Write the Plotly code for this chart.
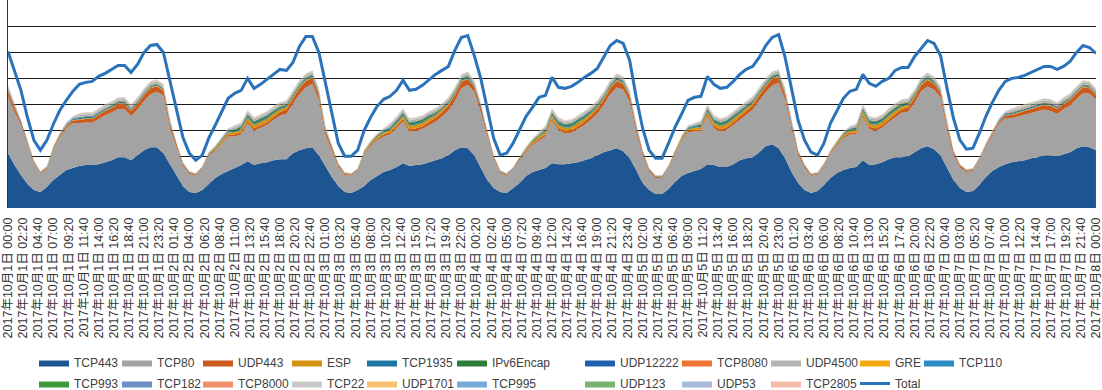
import pandas as pd
import plotly.graph_objects as go

# ---------------- data (arbitrary units; one value per hour) ----------------
hours = pd.date_range("2017-10-01 00:00", "2017-10-08 00:00", freq="h")

TCP443 = [
    55, 43, 33, 24, 18, 16, 21, 28, 33, 38, 40, 42, 43, 43, 44, 46, 48, 51, 51, 48, 53, 58, 61, 61,
    55, 44, 33, 22, 16, 15, 18, 24, 30, 34, 37, 40, 43, 47, 43, 45, 46, 48, 49, 49, 55, 58, 60, 61,
    53, 42, 31, 22, 16, 15, 18, 22, 28, 32, 36, 38, 41, 45, 42, 43, 44, 46, 48, 50, 53, 58, 61, 60,
    53, 41, 28, 20, 16, 15, 20, 25, 32, 36, 38, 40, 45, 44, 44, 45, 46, 48, 50, 53, 56, 58, 60, 57,
    50, 38, 25, 18, 14, 14, 19, 26, 32, 35, 37, 39, 44, 43, 41, 41, 44, 48, 50, 51, 56, 62, 64, 60,
    50, 36, 25, 18, 15, 17, 23, 30, 35, 38, 40, 41, 48, 43, 44, 46, 49, 51, 51, 52, 56, 60, 62, 59,
    53, 40, 28, 20, 16, 17, 23, 31, 37, 41, 44, 46, 47, 48, 50, 51, 53, 53, 52, 54, 56, 60, 62, 61,
    58]

TCP80 = [
    56.7, 53.2, 50.4, 40.4, 27.2, 18.4, 18.4, 31.2, 37.5, 41.9, 45.2, 43.2, 42.7, 42.4, 45.2, 47, 47.7, 48.4, 48.2, 44, 45.7, 49.2, 53.2, 55.7,
    57.5, 36.1, 28.4, 20.4, 18.2, 17.4, 21.4, 29, 27, 29.9, 34.8, 31.6, 30.8, 38.1, 34.5, 35.4, 37.2, 40.3, 43.6, 45.6, 49.5, 56, 60.8, 63.5,
    55.5, 31.1, 27.4, 19.4, 17.2, 17.4, 19.4, 33, 34, 35.9, 35.8, 35.6, 38.8, 42.1, 34.5, 34.4, 35.2, 37.3, 38.6, 41.6, 44.5, 49, 58.8, 63.5,
    63.5, 55.1, 45.4, 29.4, 19.2, 17.4, 18.4, 23, 24, 26.9, 29.8, 31.6, 42.8, 34.1, 30.5, 30.4, 33.2, 35.3, 38.6, 41.6, 47.5, 56, 60.8, 61.5,
    56.5, 38.1, 28.4, 18.4, 16.2, 16.4, 21.4, 29, 35, 40.9, 39.8, 37.6, 47.8, 37.1, 35.5, 37.4, 39.2, 40.3, 43.6, 47.6, 51.5, 54, 58.8, 65.5,
    58.5, 42.1, 28.4, 22.4, 17.2, 16.4, 19.4, 25, 27, 31.9, 33.8, 32.6, 43.8, 36.1, 33.5, 34.4, 37.2, 40.3, 44.6, 44.6, 49.5, 57, 59.8, 59.5,
    57.7, 38.2, 25.4, 20.4, 20.2, 20.4, 25.4, 31.2, 35.5, 42.9, 46.2, 44.2, 44.7, 45.4, 45.2, 46, 45.7, 44.4, 42.2, 45, 46.7, 49.2, 53.2, 53.7,
    50.7]

UDP443 = [
    5, 4, 3, 2, 1.2, 1, 1, 1.2, 1.6, 2, 2.5, 3, 3.5, 3.8, 4, 4.2, 4.5, 4.8, 5, 5.2, 5.5, 6, 6, 5.5,
    5, 4, 3, 2, 1.2, 1, 1, 1.2, 1.5, 1.6, 1.8, 2, 2.2, 2.3, 2.4, 2.5, 2.8, 3.2, 3.8, 4.5, 5.2, 6, 6.5, 6,
    5, 4, 3, 2, 1.2, 1, 1, 1.2, 1.5, 1.6, 1.8, 2, 2.2, 2.3, 2.4, 2.5, 2.8, 3.2, 3.8, 4.5, 5.2, 6, 6.5, 6,
    5, 4, 3, 2, 1.2, 1, 1, 1.2, 1.5, 1.6, 1.8, 2, 2.2, 2.3, 2.4, 2.5, 2.8, 3.2, 3.8, 4.5, 5.2, 6, 6.5, 6,
    5, 4, 3, 2, 1.2, 1, 1, 1.2, 1.5, 1.6, 1.8, 2, 2.2, 2.3, 2.4, 2.5, 2.8, 3.2, 3.8, 4.5, 5.2, 6, 6.5, 6,
    5, 4, 3, 2, 1.2, 1, 1, 1.2, 1.5, 1.6, 1.8, 2, 2.2, 2.3, 2.4, 2.5, 2.8, 3.2, 3.8, 4.5, 5.2, 6, 6.5, 6,
    5, 4, 3, 2, 1.2, 1, 1, 1.2, 1.6, 2, 2.5, 3, 3.5, 3.8, 4, 4.2, 4.5, 4.8, 5, 5.2, 5.5, 6, 6, 5.5,
    5]

ESP = [
    .6, .4, .2, .2, .2, .2, .2, .2, .5, .5, .5, .8, .8, .8, .8, .8, .8, .8, .8, .8, .8, .8, .8, .8,
    .8, .5, .2, .2, .2, .2, .2, .4, 1, 1.5, 2, 2.5, 2.8, 3.2, 3.6, 3.6, 3.5, 3.2, 2.6, 2.2, 1.8, 1.5, 1.2, 1,
    .8, .5, .2, .2, .2, .2, .2, .4, 1, 1.5, 2, 2.5, 2.8, 3.2, 3.6, 3.6, 3.5, 3.2, 2.6, 2.2, 1.8, 1.5, 1.2, 1,
    .8, .5, .2, .2, .2, .2, .2, .4, 1, 1.5, 2, 2.5, 2.8, 3.2, 3.6, 3.6, 3.5, 3.2, 2.6, 2.2, 1.8, 1.5, 1.2, 1,
    .8, .5, .2, .2, .2, .2, .2, .4, 1, 1.5, 2, 2.5, 2.8, 3.2, 3.6, 3.6, 3.5, 3.2, 2.6, 2.2, 1.8, 1.5, 1.2, 1,
    .8, .5, .2, .2, .2, .2, .2, .4, 1, 1.5, 2, 2.5, 2.8, 3.2, 3.6, 3.6, 3.5, 3.2, 2.6, 2.2, 1.8, 1.5, 1.2, 1,
    .6, .4, .2, .2, .2, .2, .2, .2, .5, .5, .5, .8, .8, .8, .8, .8, .8, .8, .8, .8, .8, .8, .8, .8,
    .6]

TCP1935 = [
    1.1, .8, .3, .3, .3, .3, .3, .3, .6, .8, 1, 1.2, 1.2, 1.2, 1.2, 1.2, 1.2, 1.2, 1.2, 1.2, 1.2, 1.2, 1.2, 1.2,
    1.1, .8, .3, .3, .3, .3, .3, .3, .6, .8, 1, 1.3, 1.3, 1.3, 1.3, 1.3, 1.3, 1.3, 1.3, 1.3, 1.3, 1.3, 1.3, 1.3,
    1.1, .8, .3, .3, .3, .3, .3, .3, .6, .8, 1, 1.3, 1.3, 1.3, 1.3, 1.3, 1.3, 1.3, 1.3, 1.3, 1.3, 1.3, 1.3, 1.3,
    1.1, .8, .3, .3, .3, .3, .3, .3, .6, .8, 1, 1.3, 1.3, 1.3, 1.3, 1.3, 1.3, 1.3, 1.3, 1.3, 1.3, 1.3, 1.3, 1.3,
    1.1, .8, .3, .3, .3, .3, .3, .3, .6, .8, 1, 1.3, 1.3, 1.3, 1.3, 1.3, 1.3, 1.3, 1.3, 1.3, 1.3, 1.3, 1.3, 1.3,
    1.1, .8, .3, .3, .3, .3, .3, .3, .6, .8, 1, 1.3, 1.3, 1.3, 1.3, 1.3, 1.3, 1.3, 1.3, 1.3, 1.3, 1.3, 1.3, 1.3,
    1.1, .8, .3, .3, .3, .3, .3, .3, .6, .8, 1, 1.2, 1.2, 1.2, 1.2, 1.2, 1.2, 1.2, 1.2, 1.2, 1.2, 1.2, 1.2, 1.2,
    1.1]

IPv6Encap = [
    .2, .2, .2, .2, .2, .2, .2, .2, .4, .4, .4, .4, .4, .4, .4, .4, .4, .4, .4, .4, .4, .4, .4, .4,
    .2, .2, .2, .2, .2, .2, .2, .2, .5, .8, 1, 1.2, 1.5, 1.7, 1.8, 1.8, 1.8, 1.6, 1.3, 1, .8, .8, .8, .8,
    .2, .2, .2, .2, .2, .2, .2, .2, .5, .8, 1, 1.2, 1.5, 1.7, 1.8, 1.8, 1.8, 1.6, 1.3, 1, .8, .8, .8, .8,
    .2, .2, .2, .2, .2, .2, .2, .2, .5, .8, 1, 1.2, 1.5, 1.7, 1.8, 1.8, 1.8, 1.6, 1.3, 1, .8, .8, .8, .8,
    .2, .2, .2, .2, .2, .2, .2, .2, .5, .8, 1, 1.2, 1.5, 1.7, 1.8, 1.8, 1.8, 1.6, 1.3, 1, .8, .8, .8, .8,
    .2, .2, .2, .2, .2, .2, .2, .2, .5, .8, 1, 1.2, 1.5, 1.7, 1.8, 1.8, 1.8, 1.6, 1.3, 1, .8, .8, .8, .8,
    .2, .2, .2, .2, .2, .2, .2, .2, .4, .4, .4, .4, .4, .4, .4, .4, .4, .4, .4, .4, .4, .4, .4, .4,
    .2]

UDP12222 = [
    .3, .3, .05, .05, .05, .05, .05, .05, .15, .15, .15, .3, .3, .3, .3, .3, .3, .3, .3, .3, .3, .3, .3, .3,
    .3, .3, .05, .05, .05, .05, .05, .05, .15, .15, .15, .3, .3, .3, .3, .3, .3, .3, .3, .3, .3, .3, .3, .3,
    .3, .3, .05, .05, .05, .05, .05, .05, .15, .15, .15, .3, .3, .3, .3, .3, .3, .3, .3, .3, .3, .3, .3, .3,
    .3, .3, .05, .05, .05, .05, .05, .05, .15, .15, .15, .3, .3, .3, .3, .3, .3, .3, .3, .3, .3, .3, .3, .3,
    .3, .3, .05, .05, .05, .05, .05, .05, .15, .15, .15, .3, .3, .3, .3, .3, .3, .3, .3, .3, .3, .3, .3, .3,
    .3, .3, .05, .05, .05, .05, .05, .05, .15, .15, .15, .3, .3, .3, .3, .3, .3, .3, .3, .3, .3, .3, .3, .3,
    .3, .3, .05, .05, .05, .05, .05, .05, .15, .15, .15, .3, .3, .3, .3, .3, .3, .3, .3, .3, .3, .3, .3, .3,
    .3]

TCP8080 = [
    .3, .3, .05, .05, .05, .05, .05, .05, .15, .15, .15, .3, .3, .3, .3, .3, .3, .3, .3, .3, .3, .3, .3, .3,
    .3, .3, .05, .05, .05, .05, .05, .05, .15, .15, .15, .3, .3, .3, .3, .3, .3, .3, .3, .3, .3, .3, .3, .3,
    .3, .3, .05, .05, .05, .05, .05, .05, .15, .15, .15, .3, .3, .3, .3, .3, .3, .3, .3, .3, .3, .3, .3, .3,
    .3, .3, .05, .05, .05, .05, .05, .05, .15, .15, .15, .3, .3, .3, .3, .3, .3, .3, .3, .3, .3, .3, .3, .3,
    .3, .3, .05, .05, .05, .05, .05, .05, .15, .15, .15, .3, .3, .3, .3, .3, .3, .3, .3, .3, .3, .3, .3, .3,
    .3, .3, .05, .05, .05, .05, .05, .05, .15, .15, .15, .3, .3, .3, .3, .3, .3, .3, .3, .3, .3, .3, .3, .3,
    .3, .3, .05, .05, .05, .05, .05, .05, .15, .15, .15, .3, .3, .3, .3, .3, .3, .3, .3, .3, .3, .3, .3, .3,
    .3]

UDP4500 = [
    .6, .6, .1, .1, .1, .1, .1, .1, .3, .3, .3, .6, .6, .6, .6, .6, .6, .6, .6, .6, .6, .6, .6, .6,
    .6, .6, .1, .1, .1, .1, .1, .1, .3, .3, .3, .6, .6, .6, .6, .6, .6, .6, .6, .6, .6, .6, .6, .6,
    .6, .6, .1, .1, .1, .1, .1, .1, .3, .3, .3, .6, .6, .6, .6, .6, .6, .6, .6, .6, .6, .6, .6, .6,
    .6, .6, .1, .1, .1, .1, .1, .1, .3, .3, .3, .6, .6, .6, .6, .6, .6, .6, .6, .6, .6, .6, .6, .6,
    .6, .6, .1, .1, .1, .1, .1, .1, .3, .3, .3, .6, .6, .6, .6, .6, .6, .6, .6, .6, .6, .6, .6, .6,
    .6, .6, .1, .1, .1, .1, .1, .1, .3, .3, .3, .6, .6, .6, .6, .6, .6, .6, .6, .6, .6, .6, .6, .6,
    .6, .6, .1, .1, .1, .1, .1, .1, .3, .3, .3, .6, .6, .6, .6, .6, .6, .6, .6, .6, .6, .6, .6, .6,
    .6]

GRE = [
    .3, .3, .05, .05, .05, .05, .05, .05, .15, .15, .15, .3, .3, .3, .3, .3, .3, .3, .3, .3, .3, .3, .3, .3,
    .3, .3, .05, .05, .05, .05, .05, .05, .15, .15, .15, .3, .3, .3, .3, .3, .3, .3, .3, .3, .3, .3, .3, .3,
    .3, .3, .05, .05, .05, .05, .05, .05, .15, .15, .15, .3, .3, .3, .3, .3, .3, .3, .3, .3, .3, .3, .3, .3,
    .3, .3, .05, .05, .05, .05, .05, .05, .15, .15, .15, .3, .3, .3, .3, .3, .3, .3, .3, .3, .3, .3, .3, .3,
    .3, .3, .05, .05, .05, .05, .05, .05, .15, .15, .15, .3, .3, .3, .3, .3, .3, .3, .3, .3, .3, .3, .3, .3,
    .3, .3, .05, .05, .05, .05, .05, .05, .15, .15, .15, .3, .3, .3, .3, .3, .3, .3, .3, .3, .3, .3, .3, .3,
    .3, .3, .05, .05, .05, .05, .05, .05, .15, .15, .15, .3, .3, .3, .3, .3, .3, .3, .3, .3, .3, .3, .3, .3,
    .3]

TCP110 = [
    .3, .3, .05, .05, .05, .05, .05, .05, .15, .15, .15, .3, .3, .3, .3, .3, .3, .3, .3, .3, .3, .3, .3, .3,
    .3, .3, .05, .05, .05, .05, .05, .05, .15, .15, .15, .3, .3, .3, .3, .3, .3, .3, .3, .3, .3, .3, .3, .3,
    .3, .3, .05, .05, .05, .05, .05, .05, .15, .15, .15, .3, .3, .3, .3, .3, .3, .3, .3, .3, .3, .3, .3, .3,
    .3, .3, .05, .05, .05, .05, .05, .05, .15, .15, .15, .3, .3, .3, .3, .3, .3, .3, .3, .3, .3, .3, .3, .3,
    .3, .3, .05, .05, .05, .05, .05, .05, .15, .15, .15, .3, .3, .3, .3, .3, .3, .3, .3, .3, .3, .3, .3, .3,
    .3, .3, .05, .05, .05, .05, .05, .05, .15, .15, .15, .3, .3, .3, .3, .3, .3, .3, .3, .3, .3, .3, .3, .3,
    .3, .3, .05, .05, .05, .05, .05, .05, .15, .15, .15, .3, .3, .3, .3, .3, .3, .3, .3, .3, .3, .3, .3, .3,
    .3]

TCP993 = [
    .2, .2, .05, .05, .05, .05, .05, .05, .1, .1, .1, .2, .2, .2, .2, .2, .2, .2, .2, .2, .2, .2, .2, .2,
    .2, .2, .05, .05, .05, .05, .05, .05, .1, .1, .1, .2, .2, .2, .2, .2, .2, .2, .2, .2, .2, .2, .2, .2,
    .2, .2, .05, .05, .05, .05, .05, .05, .1, .1, .1, .2, .2, .2, .2, .2, .2, .2, .2, .2, .2, .2, .2, .2,
    .2, .2, .05, .05, .05, .05, .05, .05, .1, .1, .1, .2, .2, .2, .2, .2, .2, .2, .2, .2, .2, .2, .2, .2,
    .2, .2, .05, .05, .05, .05, .05, .05, .1, .1, .1, .2, .2, .2, .2, .2, .2, .2, .2, .2, .2, .2, .2, .2,
    .2, .2, .05, .05, .05, .05, .05, .05, .1, .1, .1, .2, .2, .2, .2, .2, .2, .2, .2, .2, .2, .2, .2, .2,
    .2, .2, .05, .05, .05, .05, .05, .05, .1, .1, .1, .2, .2, .2, .2, .2, .2, .2, .2, .2, .2, .2, .2, .2,
    .2]

TCP182 = [
    .2, .2, .05, .05, .05, .05, .05, .05, .1, .1, .1, .2, .2, .2, .2, .2, .2, .2, .2, .2, .2, .2, .2, .2,
    .2, .2, .05, .05, .05, .05, .05, .05, .1, .1, .1, .2, .2, .2, .2, .2, .2, .2, .2, .2, .2, .2, .2, .2,
    .2, .2, .05, .05, .05, .05, .05, .05, .1, .1, .1, .2, .2, .2, .2, .2, .2, .2, .2, .2, .2, .2, .2, .2,
    .2, .2, .05, .05, .05, .05, .05, .05, .1, .1, .1, .2, .2, .2, .2, .2, .2, .2, .2, .2, .2, .2, .2, .2,
    .2, .2, .05, .05, .05, .05, .05, .05, .1, .1, .1, .2, .2, .2, .2, .2, .2, .2, .2, .2, .2, .2, .2, .2,
    .2, .2, .05, .05, .05, .05, .05, .05, .1, .1, .1, .2, .2, .2, .2, .2, .2, .2, .2, .2, .2, .2, .2, .2,
    .2, .2, .05, .05, .05, .05, .05, .05, .1, .1, .1, .2, .2, .2, .2, .2, .2, .2, .2, .2, .2, .2, .2, .2,
    .2]

TCP8000 = [
    .3, .3, .05, .05, .05, .05, .05, .05, .15, .15, .15, .3, .3, .3, .3, .3, .3, .3, .3, .3, .3, .3, .3, .3,
    .3, .3, .05, .05, .05, .05, .05, .05, .15, .15, .15, .3, .3, .3, .3, .3, .3, .3, .3, .3, .3, .3, .3, .3,
    .3, .3, .05, .05, .05, .05, .05, .05, .15, .15, .15, .3, .3, .3, .3, .3, .3, .3, .3, .3, .3, .3, .3, .3,
    .3, .3, .05, .05, .05, .05, .05, .05, .15, .15, .15, .3, .3, .3, .3, .3, .3, .3, .3, .3, .3, .3, .3, .3,
    .3, .3, .05, .05, .05, .05, .05, .05, .15, .15, .15, .3, .3, .3, .3, .3, .3, .3, .3, .3, .3, .3, .3, .3,
    .3, .3, .05, .05, .05, .05, .05, .05, .15, .15, .15, .3, .3, .3, .3, .3, .3, .3, .3, .3, .3, .3, .3, .3,
    .3, .3, .05, .05, .05, .05, .05, .05, .15, .15, .15, .3, .3, .3, .3, .3, .3, .3, .3, .3, .3, .3, .3, .3,
    .3]

TCP22 = [
    .6, .6, .15, .15, .15, .15, .15, .15, .4, .4, .4, .6, .6, .6, .6, .6, .6, .6, .6, .6, .6, .6, .6, .6,
    .6, .6, .15, .15, .15, .15, .15, .15, .4, .4, .4, .6, .6, .6, .6, .6, .6, .6, .6, .6, .6, .6, .6, .6,
    .6, .6, .15, .15, .15, .15, .15, .15, .4, .4, .4, .6, .6, .6, .6, .6, .6, .6, .6, .6, .6, .6, .6, .6,
    .6, .6, .15, .15, .15, .15, .15, .15, .4, .4, .4, .6, .6, .6, .6, .6, .6, .6, .6, .6, .6, .6, .6, .6,
    .6, .6, .15, .15, .15, .15, .15, .15, .4, .4, .4, .6, .6, .6, .6, .6, .6, .6, .6, .6, .6, .6, .6, .6,
    .6, .6, .15, .15, .15, .15, .15, .15, .4, .4, .4, .6, .6, .6, .6, .6, .6, .6, .6, .6, .6, .6, .6, .6,
    .6, .6, .15, .15, .15, .15, .15, .15, .4, .4, .4, .6, .6, .6, .6, .6, .6, .6, .6, .6, .6, .6, .6, .6,
    .6]

UDP1701 = [
    .2, .2, .05, .05, .05, .05, .05, .05, .1, .1, .1, .2, .2, .2, .2, .2, .2, .2, .2, .2, .2, .2, .2, .2,
    .2, .2, .05, .05, .05, .05, .05, .05, .1, .1, .1, .2, .2, .2, .2, .2, .2, .2, .2, .2, .2, .2, .2, .2,
    .2, .2, .05, .05, .05, .05, .05, .05, .1, .1, .1, .2, .2, .2, .2, .2, .2, .2, .2, .2, .2, .2, .2, .2,
    .2, .2, .05, .05, .05, .05, .05, .05, .1, .1, .1, .2, .2, .2, .2, .2, .2, .2, .2, .2, .2, .2, .2, .2,
    .2, .2, .05, .05, .05, .05, .05, .05, .1, .1, .1, .2, .2, .2, .2, .2, .2, .2, .2, .2, .2, .2, .2, .2,
    .2, .2, .05, .05, .05, .05, .05, .05, .1, .1, .1, .2, .2, .2, .2, .2, .2, .2, .2, .2, .2, .2, .2, .2,
    .2, .2, .05, .05, .05, .05, .05, .05, .1, .1, .1, .2, .2, .2, .2, .2, .2, .2, .2, .2, .2, .2, .2, .2,
    .2]

TCP995 = [
    .2, .2, .05, .05, .05, .05, .05, .05, .1, .1, .1, .2, .2, .2, .2, .2, .2, .2, .2, .2, .2, .2, .2, .2,
    .2, .2, .05, .05, .05, .05, .05, .05, .1, .1, .1, .2, .2, .2, .2, .2, .2, .2, .2, .2, .2, .2, .2, .2,
    .2, .2, .05, .05, .05, .05, .05, .05, .1, .1, .1, .2, .2, .2, .2, .2, .2, .2, .2, .2, .2, .2, .2, .2,
    .2, .2, .05, .05, .05, .05, .05, .05, .1, .1, .1, .2, .2, .2, .2, .2, .2, .2, .2, .2, .2, .2, .2, .2,
    .2, .2, .05, .05, .05, .05, .05, .05, .1, .1, .1, .2, .2, .2, .2, .2, .2, .2, .2, .2, .2, .2, .2, .2,
    .2, .2, .05, .05, .05, .05, .05, .05, .1, .1, .1, .2, .2, .2, .2, .2, .2, .2, .2, .2, .2, .2, .2, .2,
    .2, .2, .05, .05, .05, .05, .05, .05, .1, .1, .1, .2, .2, .2, .2, .2, .2, .2, .2, .2, .2, .2, .2, .2,
    .2]

UDP123 = [
    .2, .2, .05, .05, .05, .05, .05, .05, .1, .1, .1, .2, .2, .2, .2, .2, .2, .2, .2, .2, .2, .2, .2, .2,
    .2, .2, .05, .05, .05, .05, .05, .05, .1, .1, .1, .2, .2, .2, .2, .2, .2, .2, .2, .2, .2, .2, .2, .2,
    .2, .2, .05, .05, .05, .05, .05, .05, .1, .1, .1, .2, .2, .2, .2, .2, .2, .2, .2, .2, .2, .2, .2, .2,
    .2, .2, .05, .05, .05, .05, .05, .05, .1, .1, .1, .2, .2, .2, .2, .2, .2, .2, .2, .2, .2, .2, .2, .2,
    .2, .2, .05, .05, .05, .05, .05, .05, .1, .1, .1, .2, .2, .2, .2, .2, .2, .2, .2, .2, .2, .2, .2, .2,
    .2, .2, .05, .05, .05, .05, .05, .05, .1, .1, .1, .2, .2, .2, .2, .2, .2, .2, .2, .2, .2, .2, .2, .2,
    .2, .2, .05, .05, .05, .05, .05, .05, .1, .1, .1, .2, .2, .2, .2, .2, .2, .2, .2, .2, .2, .2, .2, .2,
    .2]

UDP53 = [
    .3, .3, .1, .1, .1, .1, .1, .1, .2, .2, .2, .3, .3, .3, .3, .3, .3, .3, .3, .3, .3, .3, .3, .3,
    .3, .3, .1, .1, .1, .1, .1, .1, .2, .2, .2, .3, .3, .3, .3, .3, .3, .3, .3, .3, .3, .3, .3, .3,
    .3, .3, .1, .1, .1, .1, .1, .1, .2, .2, .2, .3, .3, .3, .3, .3, .3, .3, .3, .3, .3, .3, .3, .3,
    .3, .3, .1, .1, .1, .1, .1, .1, .2, .2, .2, .3, .3, .3, .3, .3, .3, .3, .3, .3, .3, .3, .3, .3,
    .3, .3, .1, .1, .1, .1, .1, .1, .2, .2, .2, .3, .3, .3, .3, .3, .3, .3, .3, .3, .3, .3, .3, .3,
    .3, .3, .1, .1, .1, .1, .1, .1, .2, .2, .2, .3, .3, .3, .3, .3, .3, .3, .3, .3, .3, .3, .3, .3,
    .3, .3, .1, .1, .1, .1, .1, .1, .2, .2, .2, .3, .3, .3, .3, .3, .3, .3, .3, .3, .3, .3, .3, .3,
    .3]

TCP2805 = [
    .4, .4, .1, .1, .1, .1, .1, .1, .25, .25, .25, .4, .4, .4, .4, .4, .4, .4, .4, .4, .4, .4, .4, .4,
    .4, .4, .1, .1, .1, .1, .1, .1, .25, .25, .25, .4, .4, .4, .4, .4, .4, .4, .4, .4, .4, .4, .4, .4,
    .4, .4, .1, .1, .1, .1, .1, .1, .25, .25, .25, .4, .4, .4, .4, .4, .4, .4, .4, .4, .4, .4, .4, .4,
    .4, .4, .1, .1, .1, .1, .1, .1, .25, .25, .25, .4, .4, .4, .4, .4, .4, .4, .4, .4, .4, .4, .4, .4,
    .4, .4, .1, .1, .1, .1, .1, .1, .25, .25, .25, .4, .4, .4, .4, .4, .4, .4, .4, .4, .4, .4, .4, .4,
    .4, .4, .1, .1, .1, .1, .1, .1, .25, .25, .25, .4, .4, .4, .4, .4, .4, .4, .4, .4, .4, .4, .4, .4,
    .4, .4, .1, .1, .1, .1, .1, .1, .25, .25, .25, .4, .4, .4, .4, .4, .4, .4, .4, .4, .4, .4, .4, .4,
    .4]

Total = [
    157, 138, 118, 91, 68, 58, 68, 84, 98, 108, 117, 124, 126, 127, 132, 135, 139, 143, 143, 136, 144, 156, 163, 164,
    156, 128, 98, 71, 55, 48, 53, 70, 83, 96, 110, 115, 118, 130, 120, 124, 129, 134, 139, 138, 146, 162, 172, 172,
    156, 126, 94, 65, 52, 52, 58, 78, 91, 102, 109, 112, 118, 128, 118, 119, 123, 129, 134, 138, 142, 158, 171, 173,
    153, 130, 101, 70, 53, 55, 65, 78, 92, 101, 111, 113, 131, 121, 120, 122, 126, 131, 135, 140, 151, 163, 168, 165,
    148, 111, 80, 58, 50, 50, 65, 81, 94, 108, 111, 112, 132, 124, 120, 121, 127, 134, 139, 142, 151, 163, 171, 174,
    151, 118, 88, 68, 56, 53, 65, 85, 98, 110, 117, 119, 134, 125, 122, 127, 130, 138, 141, 141, 152, 160, 168, 165,
    153, 120, 90, 68, 59, 60, 75, 92, 106, 118, 127, 130, 131, 133, 136, 139, 142, 142, 139, 142, 147, 156, 163, 161,
    155]

stack_names = ["TCP443", "TCP80", "UDP443", "ESP", "TCP1935", "IPv6Encap", "UDP12222", "TCP8080",
               "UDP4500", "GRE", "TCP110", "TCP993", "TCP182", "TCP8000", "TCP22", "UDP1701",
               "TCP995", "UDP123", "UDP53", "TCP2805"]
stack_values = [TCP443, TCP80, UDP443, ESP, TCP1935, IPv6Encap, UDP12222, TCP8080,
                UDP4500, GRE, TCP110, TCP993, TCP182, TCP8000, TCP22, UDP1701,
                TCP995, UDP123, UDP53, TCP2805]

# ---------------- styles ----------------
colors = {
    "TCP443": "#1D5592", "TCP80": "#A3A3A3", "UDP443": "#C95B1F", "ESP": "#D4930F",
    "TCP1935": "#1E77A3", "IPv6Encap": "#2D7D3A", "UDP12222": "#1F60AE", "TCP8080": "#EE7530",
    "UDP4500": "#B3B3B3", "GRE": "#F5A80E", "TCP110": "#2A8AC4", "TCP993": "#3E9A3A",
    "TCP182": "#6D8EC6", "TCP8000": "#F0906B", "TCP22": "#C9C9C9", "UDP1701": "#F7C26D",
    "TCP995": "#74A9DA", "UDP123": "#77B36F", "UDP53": "#A9BADB", "TCP2805": "#F4BAAA",
    "Total": "#2A73BB",
}

row1 = ["TCP443", "TCP80", "UDP443", "ESP", "TCP1935", "IPv6Encap", "UDP12222", "TCP8080",
        "UDP4500", "GRE", "TCP110"]
row2 = ["TCP993", "TCP182", "TCP8000", "TCP22", "UDP1701", "TCP995", "UDP123", "UDP53",
        "TCP2805", "Total"]
legend_ids = ["legend"] + [f"legend{i}" for i in range(2, 12)]
legend_of = {}
for i, nm in enumerate(row1):
    legend_of[nm] = legend_ids[i]
for i, nm in enumerate(row2):
    legend_of[nm] = legend_ids[i]

ML, MR, MT, MB = 8, 6, 0, 182
PW = 1102 - ML - MR
PH = 390 - MT - MB
legend_text_px = [74, 157, 238, 327, 402, 492, 620, 717, 806, 895, 959]
legend_top_px = 348

fig = go.Figure()
for nm, vals in zip(stack_names, stack_values):
    fig.add_trace(go.Scatter(
        x=hours, y=vals, name=nm, mode="lines", stackgroup="s",
        line=dict(width=0, color=colors[nm]), fillcolor=colors[nm],
        legend=legend_of[nm], legendgroup=nm,
    ))
fig.add_trace(go.Scatter(
    x=hours, y=Total, name="Total", mode="lines",
    line=dict(width=3, color=colors["Total"]),
    legend=legend_of["Total"], legendgroup="Total",
))

legend_layout = {}
for i, lid in enumerate(legend_ids):
    legend_layout[lid] = dict(
        x=(legend_text_px[i] - 40 - ML) / PW,
        y=1 - (legend_top_px - MT) / PH,
        xanchor="left", yanchor="top", orientation="v",
        traceorder="grouped", tracegroupgap=2,
        bgcolor="rgba(0,0,0,0)", borderwidth=0,
        font=dict(family="Liberation Sans, Arial, sans-serif", size=12, color="#404040"),
    )

fig.update_layout(
    width=1102, height=390,
    margin=dict(l=ML, r=MR, t=MT, b=MB, autoexpand=False),
    paper_bgcolor="white", plot_bgcolor="white",
    showlegend=True,
    **legend_layout,
)
fig.update_xaxes(
    type="date",
    range=["2017-10-01 00:00:00", "2017-10-08 00:00:20"],
    tick0="2017-10-01 00:00", dtick=140 * 60 * 1000,
    tickformat="%Y年%-m月%-d日 %H:%M",
    tickangle=-90, ticks="", showgrid=False, showline=False, zeroline=False,
    ticklabelstandoff=6, ticklabeloverflow="allow",
    tickfont=dict(family="Liberation Sans, Noto Sans CJK JP, sans-serif", size=12.5, color="#333333"),
)
fig.update_yaxes(
    range=[0, 208.6], tick0=0, dtick=26,
    showticklabels=False, ticks="",
    showgrid=True, gridcolor="#1a1a1a", gridwidth=1,
    showline=True, linecolor="#333333", linewidth=1,
    zeroline=False,
)

fig.write_html("out.html", config={"displayModeBar": False},
               post_script="document.body.style.margin='0';")
